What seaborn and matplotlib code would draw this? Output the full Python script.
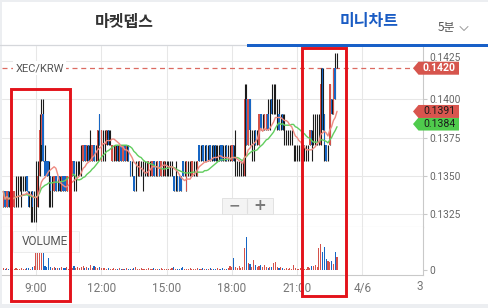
import numpy as np
import pandas as pd
import matplotlib
matplotlib.use("Agg")
import matplotlib.pyplot as plt
import seaborn as sns
from matplotlib.patches import Rectangle, Polygon
from matplotlib.lines import Line2D
from matplotlib.transforms import Bbox, TransformedBbox, blended_transform_factory, ScaledTranslation

# ---------------- data (5-minute candles, prices in thousandths of KRW) ----------------
PRICE_UNIT = 0.001
OPEN_K = [
    133,134,133,134,133,134,133,134,134,134, 134,134,134,135,134,133,134,133,134,133,
    135,137,139,136,136,136,135,134,134,135, 134,135,134,135,135,134,135,135,135,136,
    135,135,136,136,136,137,136,137,137,136, 137,137,136,139,136,138,137,137,138,137,
    136,137,136,137,136,137,136,137,136,137, 136,135,135,135,135,135,136,135,135,136,
    135,136,135,136,135,135,136,135,136,135, 136,135,136,135,135,135,135,135,135,136,
    135,134,136,135,135,136,135,135,137,136, 137,137,137,136,137,137,137,137,136,137,
    137,137,136,137,136,136,136,137,136,136, 135,135,135,135,140,137,140,138,137,138,
    137,137,139,138,138,138,139,139,140,139, 140,139,139,138,139,138,138,138,137,138,
    137,136,137,136,137,136,137,136,137,137, 138,137,138,138,138,137,142,139,137,136,
    137,140,139,142,142]
HIGH_K = [
    134,134,134,134,134,134,134,135,135,135, 135,135,135,135,134,134,134,134,136,136,
    139,140,140,137,136,136,135,135,135,135, 135,135,135,135,135,135,135,136,136,136,
    136,136,136,137,137,137,137,137,138,137, 137,137,138,139,138,138,138,138,138,138,
    137,137,137,137,137,137,137,137,137,137, 136,136,135,136,136,136,136,136,136,136,
    136,136,136,136,136,136,136,136,136,136, 136,136,136,136,135,136,135,135,135,136,
    136,136,136,136,136,136,136,136,137,137, 137,137,137,137,137,137,137,137,137,137,
    137,137,137,137,137,137,137,137,138,136, 136,136,136,141,141,140,140,138,138,138,
    138,139,139,139,139,139,140,140,141,141, 141,140,140,139,139,139,138,138,138,138,
    137,137,137,137,137,137,137,137,137,138, 138,139,139,139,139,142,142,139,137,137,
    141,140,142,143,143]
LOW_K = [
    133,133,133,133,133,133,133,133,133,134, 133,134,134,134,133,132,132,132,132,133,
    135,136,136,135,135,133,133,133,134,134, 134,134,134,134,134,134,134,134,135,134,
    134,135,135,135,136,136,136,136,136,136, 136,136,136,137,136,136,136,137,137,137,
    136,136,136,136,136,136,136,136,136,136, 135,135,134,134,135,135,135,134,135,135,
    135,135,135,135,135,135,135,135,135,135, 135,135,135,135,134,134,134,134,134,135,
    135,134,135,135,135,135,135,135,136,136, 136,136,136,136,136,136,136,136,136,136,
    136,136,136,136,136,136,136,136,135,135, 135,135,135,135,137,137,137,136,136,137,
    137,137,138,138,138,138,138,138,139,139, 139,138,138,138,138,137,137,137,137,137,
    136,136,136,136,136,136,136,136,136,137, 136,137,137,137,137,137,138,136,136,136,
    137,139,139,140,142]
CLOSE_K = [
    134,133,134,133,134,133,134,134,134,134, 134,134,134,134,133,133,133,133,134,135,
    138,139,136,135,135,135,134,134,135,134, 134,134,135,134,134,135,135,135,136,135,
    135,135,136,136,137,136,137,136,137,137, 136,137,138,137,138,138,137,138,137,137,
    137,137,137,136,137,136,137,136,137,136, 135,135,134,135,135,136,136,135,135,136,
    136,136,136,135,135,136,135,136,136,136, 136,135,136,135,134,135,134,134,134,135,
    135,136,136,135,136,136,135,136,136,136, 136,137,136,136,136,137,136,136,136,137,
    136,136,136,136,136,136,137,136,136,136, 135,135,135,140,137,140,138,138,137,137,
    137,139,138,138,139,139,138,139,139,139, 140,139,138,138,138,138,138,138,137,138,
    137,136,137,136,137,136,137,136,137,138, 137,137,138,138,138,141,138,137,136,136,
    141,139,142,140,142]
VOLUME = [
    2,1,2,1,2,1,1,2,1,1,2,1,1,2,2,1,3,4,
    38,22,20,17,28,4,3,12,3,2,3,2,2,2,3,2,2,3,1,
    3,2,4,2,3,2,3,4,2,3,2,5,2,4,3,2,3,2,2,
    2,1,2,1,1,2,1,1,2,1,1,1,2,1,1,1,2,3,
    1,1,2,1,1,1,2,1,1,2,1,1,1,2,1,1,1,1,1,2,
    3,1,1,1,2,3,1,1,1,2,1,1,1,2,
    1,1,2,1,1,1,2,1,1,1,2,1,1,2,1,1,2,4,3,
    12,3,2,4,2,3,
    22,33,7,6,3,10,5,3,
    4,5,3,5,3,2,3,3,7,8,3,2,3,2,1,2,1,2,1,
    5,2,1,1,2,1,1,1,3,2,4,4,5,3,
    22,26,18,23,11,9,8,9,6,18,13]

X_TICK_POS = [18, 54, 90, 126, 162, 198]
X_TICK_LABELS = ['9:00', '12:00', '15:00', '18:00', '21:00', '4/6']
X_CLIPPED_TICK = (234, '3:00')
Y_TICKS = [0.1325, 0.1350, 0.1375, 0.1400, 0.1425]
LAST_PRICE = 0.1420
TAG_FAST, TAG_SLOW = 0.1391, 0.1384
MA_FAST, MA_SLOW = 10, 20
PAIR = 'XEC/KRW'

# ---------------- style ----------------
RED = '#d4524b'
BLUE = '#1766c4'
MA_RED = '#ee8b82'
MA_GREEN = '#62cd5f'
GRID = '#e7e7e7'
AXC = '#c9c9c9'

sns.set_style('white')
plt.rcParams['font.family'] = ['Roboto', 'Noto Sans CJK KR', 'DejaVu Sans']

df = pd.DataFrame({
    'i': np.arange(len(OPEN_K)),
    'open': np.array(OPEN_K) * PRICE_UNIT,
    'high': np.array(HIGH_K) * PRICE_UNIT,
    'low': np.array(LOW_K) * PRICE_UNIT,
    'close': np.array(CLOSE_K) * PRICE_UNIT,
    'volume': VOLUME,
})
df['ma_fast'] = df['close'].rolling(MA_FAST, min_periods=1).mean()
df['ma_slow'] = df['close'].rolling(MA_SLOW, min_periods=1).mean()
df['vdir'] = np.where(df['close'] < df['open'], 'down', 'up')

W, H = 489, 308
fig = plt.figure(figsize=(W / 100, H / 100), dpi=100)
fig.patch.set_facecolor('white')

def fx(px):
    return px / W

def fy(py):
    return 1 - py / H

ax = fig.add_axes([fx(2), fy(227), fx(423) - fx(2), fy(46) - fy(227)])
axv = fig.add_axes([fx(2), fy(275), fx(423) - fx(2), fy(227) - fy(275)])
XLIM = (-0.72, 231.4)

# ---------------- price pane ----------------
ax.vlines(df['i'], df['low'], df['high'], color='#1b1b1b', lw=0.8, zorder=3)
up = df[df['close'] > df['open']]
dn = df[df['close'] < df['open']]
ax.bar(up['i'], up['close'] - up['open'], bottom=up['open'], width=0.8,
       color=RED, linewidth=0, zorder=4)
ax.bar(dn['i'], dn['open'] - dn['close'], bottom=dn['close'], width=0.8,
       color=BLUE, linewidth=0, zorder=4)
sns.lineplot(data=df, x='i', y='ma_slow', ax=ax, color=MA_GREEN, linewidth=1.0, zorder=5)
sns.lineplot(data=df, x='i', y='ma_fast', ax=ax, color=MA_RED, linewidth=1.0, zorder=6)

ax.axhline(LAST_PRICE, color='#dc6a61', lw=0.9, ls=(0, (4, 3)), zorder=2)

ax.set_xlim(*XLIM)
ax.set_ylim(0.131688, 0.143442)
ax.set_yticks(Y_TICKS)
ax.set_yticklabels([f'{v:.4f}' for v in Y_TICKS])
ax.yaxis.tick_right()
ax.tick_params(axis='y', length=3, width=0.8, color=AXC, labelsize=7.3,
               labelcolor='#666666', pad=1.5)
# the topmost price label sits a little higher in the reference
top_lbl = ax.get_yticklabels()[-1]
top_lbl.set_transform(top_lbl.get_transform() + ScaledTranslation(0, 4 / 100, fig.dpi_scale_trans))
ax.set_xticks(X_TICK_POS)
ax.tick_params(axis='x', length=0, labelbottom=False)
ax.grid(True, color=GRID, lw=0.75, zorder=0)
ax.set_axisbelow(True)
ax.set_xlabel('')
ax.set_ylabel('')
for s in ['left', 'top']:
    ax.spines[s].set_visible(False)
for s in ['right', 'bottom']:
    ax.spines[s].set_color(AXC)
    ax.spines[s].set_linewidth(0.8)

trans_fd = blended_transform_factory(fig.transFigure, ax.transData)
ax.text(fx(15.5), LAST_PRICE, PAIR, transform=trans_fd, ha='left', va='center',
        fontsize=8, color='#555555', zorder=8,
        bbox=dict(boxstyle='square,pad=0.18', facecolor='white', edgecolor='none'))

# ---------------- volume pane ----------------
sns.barplot(data=df, x='i', y='volume', hue='vdir', palette={'up': RED, 'down': BLUE},
            native_scale=True, dodge=False, width=0.6, saturation=1, errorbar=None,
            legend=False, linewidth=0, ax=axv, zorder=3)
axv.set_xlim(*XLIM)
axv.set_ylim(-5, 43)
axv.set_yticks([0])
axv.set_yticklabels(['0'])
axv.yaxis.tick_right()
axv.tick_params(axis='y', length=3, width=0.8, color=AXC, labelsize=7.3,
                labelcolor='#666666', pad=1.5)
axv.set_xticks(X_TICK_POS)
axv.set_xticklabels(X_TICK_LABELS)
axv.tick_params(axis='x', length=3.5, width=0.8, color=AXC, labelsize=8.5,
                labelcolor='#777777', pad=1.5)
axv.grid(True, axis='x', color=GRID, lw=0.75, zorder=0)
axv.set_axisbelow(True)
axv.set_xlabel('')
axv.set_ylabel('')
for s in ['left', 'top']:
    axv.spines[s].set_visible(False)
for s in ['right', 'bottom']:
    axv.spines[s].set_color(AXC)
    axv.spines[s].set_linewidth(0.8)

trans_vx = blended_transform_factory(axv.transData, fig.transFigure)
t3 = fig.text(X_CLIPPED_TICK[0], fy(287), X_CLIPPED_TICK[1], transform=trans_vx,
              ha='center', va='center', fontsize=8.5, color='#777777')
t3.set_clip_box(TransformedBbox(Bbox([[0, 0], [fx(423), 1]]), fig.transFigure))
t3.set_clip_on(True)

# VOLUME label box
fig.add_artist(Rectangle((fx(14), fy(253)), fx(66), 21 / H, transform=fig.transFigure,
                         facecolor='#e4e4e4', edgecolor='none', zorder=1))
fig.add_artist(Rectangle((fx(13), fy(252)), fx(66), 21 / H, transform=fig.transFigure,
                         facecolor='white', edgecolor='#ececec', lw=0.6, zorder=1.1, alpha=0.92))
fig.text(fx(22), fy(241.5), 'VOLUME', fontsize=8.5, color='#555555', ha='left',
         va='center', zorder=12)

# zoom buttons
fig.add_artist(Rectangle((fx(222), fy(214)), fx(51), 16 / H, transform=fig.transFigure,
                         facecolor='#f4f4f4', edgecolor='#e2e2e2', lw=0.7, zorder=12))
fig.add_artist(Line2D([fx(247.5), fx(247.5)], [fy(213), fy(199)], transform=fig.transFigure,
                      color='#e0e0e0', lw=0.8, zorder=13))
fig.text(fx(234.5), fy(205.5), '\u2212', fontsize=10, color='#7a7a7a', ha='center',
         va='center', weight='bold', zorder=14, family=['DejaVu Sans'])
fig.text(fx(260), fy(205.5), '+', fontsize=11, color='#7a7a7a', ha='center',
         va='center', weight='bold', zorder=14, family=['DejaVu Sans'])

# ---------------- price tags ----------------
def tag(price, text, face, tcolor, weight, dy=0.0):
    yc = ax.transData.transform((0, price))[1] + dy
    xs = [413, 418.5, 459, 459, 418.5]
    ys = [yc, yc + 6.5, yc + 6.5, yc - 6.5, yc - 6.5]
    fig.add_artist(Polygon([(x / W, y / H) for x, y in zip(xs, ys)], closed=True,
                           transform=fig.transFigure, facecolor=face, edgecolor='none',
                           zorder=20))
    fig.text(439.5 / W, yc / H, text, ha='center', va='center', fontsize=7.6,
             color=tcolor, weight=weight, zorder=21)

tag(TAG_SLOW, f'{TAG_SLOW:.4f}', '#4fcb4c', '#1c1c1c', 'normal', dy=-0.4)
tag(TAG_FAST, f'{TAG_FAST:.4f}', '#d9554e', '#1c1c1c', 'normal', dy=1.4)
tag(LAST_PRICE, f'{LAST_PRICE:.4f}', '#d6554d', 'white', 'bold')

# ---------------- header ----------------
fig.add_artist(Rectangle((0, fy(2)), 1, 2 / H, transform=fig.transFigure,
                         facecolor='#eceef1', edgecolor='none', zorder=0))
fig.add_artist(Rectangle((0, 0), fx(2), 1, transform=fig.transFigure,
                         facecolor='#eceef1', edgecolor='none', zorder=0))
fig.add_artist(Rectangle((0, 0), 1, 4 / H, transform=fig.transFigure,
                         facecolor='#eceef1', edgecolor='none', zorder=0))
fig.add_artist(Line2D([0, fx(247)], [fy(45), fy(45)], transform=fig.transFigure,
                      color='#d5d7db', lw=0.9, zorder=2))
fig.add_artist(Rectangle((fx(247), fy(46.5)), 1 - fx(247), 3 / H, transform=fig.transFigure,
                         facecolor='#1860c8', edgecolor='none', zorder=3))
fig.text(fx(124), fy(21.5), '마켓뎁스', fontsize=11.5, color='#333333', ha='center',
         va='center', family=['Noto Sans CJK KR'], weight='bold')
fig.text(fx(369), fy(21), '미니차트', fontsize=11.5, color='#1a5cc4', ha='center',
         va='center', family=['Noto Sans CJK KR'], weight='bold')
fig.text(fx(446), fy(28), '5분', fontsize=8.5, color='#555555', ha='center',
         va='center', family=['Noto Sans CJK KR'])
fig.add_artist(Line2D([fx(460), fx(464), fx(468)], [fy(26.5), fy(30.5), fy(26.5)],
                      transform=fig.transFigure, color='#9a9a9a', lw=0.7, zorder=3))

# ---------------- red annotation boxes ----------------
for (x0, y0, x1, y1) in [(11.3, 88.7, 70.3, 301.0), (302.0, 48.0, 346.3, 296.0)]:
    fig.add_artist(Rectangle((fx(x0), fy(y1)), fx(x1) - fx(x0), (y1 - y0) / H,
                             transform=fig.transFigure, facecolor='none',
                             edgecolor='#e3131b', lw=2.1, zorder=30))

fig.savefig('out.png', dpi=100)
